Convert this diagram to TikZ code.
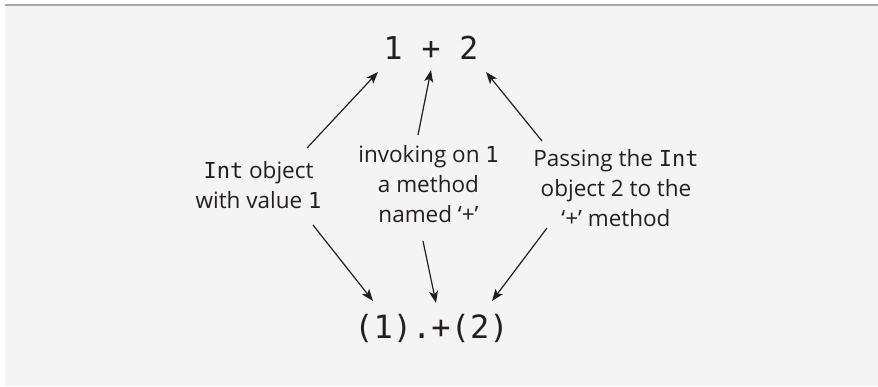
\documentclass[tikz,border=0pt]{standalone}
\usepackage{fontspec}
\setmainfont{Open Sans}
\setmonofont{DejaVu Sans Mono}
\usetikzlibrary{arrows.meta}
\definecolor{ink}{HTML}{231F20}
\definecolor{bg}{HTML}{F4F4F4}
\definecolor{rule}{HTML}{A6A6A6}
\tikzset{
  code/.style={font=\fontsize{#1}{#1}\ttfamily, text=ink, inner sep=0pt, anchor=base},
  lab/.style={font=\fontsize{22.5}{30}\selectfont, text=ink, align=center, inner sep=0pt, anchor=base},
  arr/.style={draw=ink, line width=1.2pt, -{Stealth[length=12pt,width=9pt,inset=3pt]}}
}
\newcommand{\mono}[1]{{\ttfamily\fontsize{22}{22}\selectfont #1}}
\begin{document}
\begin{tikzpicture}[x=1pt,y=-1pt]
\useasboundingbox (0,0) rectangle (878,386);
\fill[bg] (5,5) rectangle (878,386);
\draw[rule, line width=1.6pt] (5,5) -- (878,5);

\node[code=31.5] (top) at (431,59) {1 + 2};
\node[code=32] (bot) at (431.5,338) {(1).+(2)};

\node[lab] (l1) at (258.5,208) {\mono{Int} object\\with value \mono{1}};
\node[lab] (l2) at (428.5,222) {invoking on \mono{1}\\a method\\named ‘+’};
\node[lab] (l3) at (616,226) {Passing the \mono{Int}\\object 2 to the\\‘+’ method};

\coordinate (u1s) at (307,148); \coordinate (u1e) at (378,72);
\coordinate (u2s) at (418,135); \coordinate (u2e) at (431,70);
\coordinate (u3s) at (542,141); \coordinate (u3e) at (486,72);
\coordinate (d1s) at (313,225); \coordinate (d1e) at (373,301);
\coordinate (d2s) at (423,241); \coordinate (d2e) at (436,303);
\coordinate (d3s) at (547,228); \coordinate (d3e) at (492,301);

\draw[arr] (u1s) -- (u1e);
\draw[arr] (u2s) -- (u2e);
\draw[arr] (u3s) -- (u3e);
\draw[arr] (d1s) -- (d1e);
\draw[arr] (d2s) -- (d2e);
\draw[arr] (d3s) -- (d3e);
\end{tikzpicture}
\end{document}
